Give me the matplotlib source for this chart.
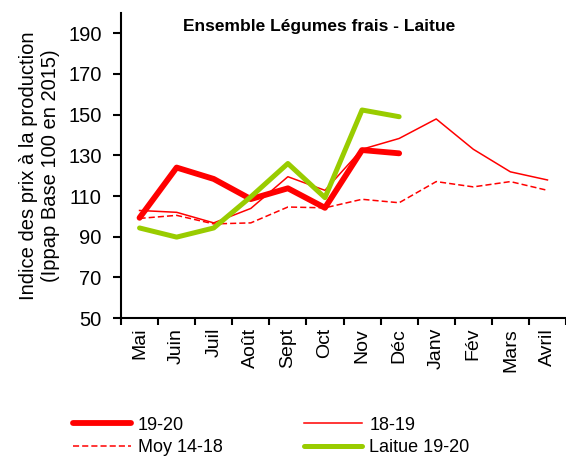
import matplotlib
matplotlib.use("Agg")
import matplotlib.pyplot as plt
import numpy as np

plt.rcParams['font.family'] = ['Liberation Sans', 'DejaVu Sans']

months = ['Mai', 'Juin', 'Juil', 'Août', 'Sept', 'Oct', 'Nov', 'Déc',
          'Janv', 'Fév', 'Mars', 'Avril']
s_19_20 = [99.3, 124, 118.4, 108.5, 113.8, 104.2, 132.6, 131]
s_18_19 = [102.9, 102, 96.8, 103.9, 119.5, 112.8, 133, 138.3, 147.9, 133, 121.9, 117.9]
moy_14_18 = [99, 100.5, 96.3, 96.8, 104.6, 104.2, 108.4, 106.7, 117.1, 114.5, 117.1, 112.8]
laitue_19_20 = [94.3, 89.8, 94.3, 109.6, 126, 109.2, 152.3, 149]

fig = plt.figure(figsize=(5.66, 4.57), dpi=100)
ax = fig.add_axes([0.2138, 0.304, 0.7862, 0.6676])

x = np.arange(len(months))
l1, = ax.plot(x[:len(s_19_20)], s_19_20, color='#ff0000', lw=4.2,
              solid_capstyle='round', solid_joinstyle='round', label='19-20', zorder=3)
l2, = ax.plot(x, s_18_19, color='#ff0000', lw=1.1, label='18-19', zorder=2)
l3, = ax.plot(x, moy_14_18, color='#ff0000', lw=1.1, ls=(0, (4, 2)), label='Moy 14-18', zorder=2)
l4, = ax.plot(x[:len(laitue_19_20)], laitue_19_20, color='#99cc00', lw=3.6,
              solid_capstyle='round', solid_joinstyle='round', label='Laitue 19-20', zorder=4)

ax.set_xlim(-0.5, len(months) - 0.5)
ax.set_ylim(50, 200)
ax.set_yticks(np.arange(50, 200, 20))
ax.set_xticks(x)
ax.set_xticklabels(months, rotation=90, fontsize=14)
ax.set_xticks(np.arange(-0.5, len(months), 1), minor=True)
ax.tick_params(axis='x', which='major', length=0, pad=7)
ax.tick_params(axis='x', which='minor', length=5, width=1.5)
ax.tick_params(axis='y', labelsize=14.5, length=6, width=1.5, pad=8)
for side in ['top', 'right']:
    ax.spines[side].set_visible(False)
for side in ['left', 'bottom']:
    ax.spines[side].set_linewidth(1.5)

ax.set_ylabel('Indice des prix à la production\n(Ippap Base 100 en 2015)', fontsize=14.5,
              linespacing=1.2, labelpad=6)
ax.text(0.445, 0.955, 'Ensemble Légumes frais - Laitue', transform=ax.transAxes,
        ha='center', va='center', fontsize=12.5, fontweight='bold')

fig.legend(handles=[l1, l3, l2, l4], ncol=2, loc='upper left',
           bbox_to_anchor=(0.129, 0.088), frameon=False, fontsize=13,
           handlelength=3.2, columnspacing=4.5, handletextpad=0.4,
           labelspacing=0.3, borderaxespad=0, borderpad=0)

fig.savefig('out.png', dpi=100)
